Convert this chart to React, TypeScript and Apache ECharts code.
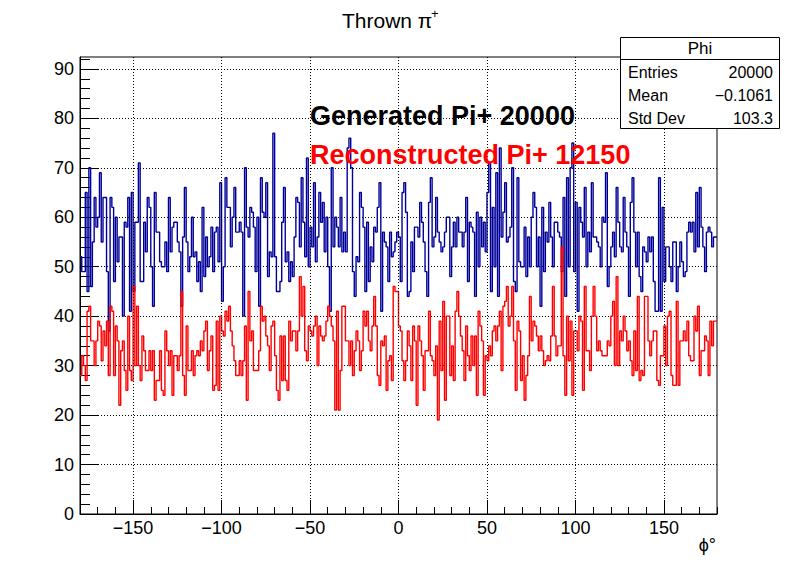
import React, { useEffect, useRef } from "react";
import * as echarts from "echarts";

const X_MIN = -180;
const X_MAX = 180;
const Y_MAX = 92.4;

const generated: number[] = [
  52,49,49,65,45,70,46,55,64,58,60,69,55,64,64,49,37,64,62,47,60,51,56,56,40,59,58,64,41,65,45,59,59,71,47,47,59,53,64,62,50,42,65,57,57,
  51,50,50,55,49,64,53,58,59,59,55,53,42,56,66,55,49,52,60,52,53,47,51,45,62,48,56,50,52,58,49,57,58,51,67,43,50,68,62,62,54,60,66,57,57,
  59,57,40,70,58,56,62,61,58,49,60,42,68,61,60,67,48,53,52,77,52,45,45,47,59,66,51,53,47,51,48,56,64,63,54,68,59,52,72,50,58,54,67,51,56,
  65,59,63,53,60,50,41,70,54,60,58,54,64,53,57,53,74,76,70,49,44,52,51,65,62,58,45,59,47,54,51,58,57,62,67,41,57,55,54,47,57,52,53,55,57,
  56,47,65,67,61,44,45,55,49,58,58,56,63,59,55,49,44,63,68,54,56,64,57,55,53,54,57,60,60,48,54,59,54,60,57,57,54,57,64,47,59,58,57,44,61,
  50,60,54,59,53,65,71,45,62,50,69,44,74,56,61,67,55,56,58,70,47,45,68,51,50,50,58,48,56,50,60,65,62,50,56,42,62,49,57,55,63,56,50,59,59,
  57,56,49,64,44,68,50,70,75,49,63,41,62,59,56,66,50,57,53,67,56,56,55,54,50,60,59,69,46,50,54,57,52,66,59,54,53,64,57,54,44,63,68,57,50,
  57,48,45,54,53,51,56,53,56,47,41,41,68,41,62,47,54,54,50,47,55,55,45,50,55,51,48,49,57,59,57,59,53,65,54,66,58,54,49,57,58,57,54,56,56
];

const reconstructed: number[] = [
  28,32,30,27,41,42,35,35,30,35,39,38,31,37,34,39,28,42,41,28,38,35,22,33,35,29,25,40,29,27,46,30,42,30,27,36,33,29,29,33,29,33,23,27,27,
  33,25,24,37,33,30,33,24,32,32,29,32,45,28,24,38,29,29,33,28,32,33,32,35,33,37,39,29,33,36,25,26,39,25,40,37,36,41,39,42,37,34,31,28,28,
  31,28,31,38,23,45,35,37,29,29,29,33,42,39,40,36,34,29,38,39,32,25,23,36,27,36,27,25,39,35,37,37,33,37,48,40,46,33,31,38,37,36,38,40,30,
  38,36,35,36,39,42,40,38,35,21,41,21,29,42,42,35,35,30,35,28,33,37,35,29,33,41,38,41,35,33,38,44,38,28,26,35,34,36,25,31,32,27,46,45,45,
  38,37,31,27,31,37,34,27,38,35,22,38,35,32,25,33,33,41,32,31,28,34,19,39,29,43,23,40,40,28,34,27,41,45,40,36,33,27,38,32,29,36,30,36,24,
  41,38,35,24,32,31,34,32,37,38,35,38,41,29,42,43,46,38,40,46,35,25,39,37,27,32,23,28,32,44,35,39,38,36,33,36,33,30,31,32,31,36,46,36,32,
  34,34,54,32,24,40,31,39,24,37,37,33,40,39,25,46,33,33,29,40,46,40,33,35,33,32,32,32,35,34,40,43,30,48,30,37,35,40,37,33,35,31,28,37,29,
  44,27,29,28,44,44,35,32,35,37,37,27,26,32,32,38,30,40,41,28,26,26,43,26,35,35,37,35,39,32,31,31,40,37,42,28,33,33,36,35,28,39,34,39,39
];

const xMajorTicks = [-150, -100, -50, 0, 50, 100, 150];
const yMajorTicks = [0, 10, 20, 30, 40, 50, 60, 70, 80, 90];
const statsRows = [
  ["Entries", "20000"],
  ["Mean", "\u22120.1061"],
  ["Std Dev", "103.3"],
];

const FONT = "'Liberation Sans', Arial, Helvetica, sans-serif";

function toSteps(vals: number[]) {
  const pts: number[][] = vals.map((v, i) => [X_MIN + i, v]);
  pts.push([X_MIN + vals.length, vals[vals.length - 1]]);
  return pts;
}

function fmt(v: number) {
  return v < 0 ? "\u2212" + Math.abs(v) : String(v);
}

export default function App() {
  const ref = useRef<HTMLDivElement>(null);
  useEffect(() => {
    if (!ref.current) return;
    const chart = echarts.init(ref.current, undefined, { renderer: "svg" });
    const labelStyle = { color: "#000", fontSize: 18, fontFamily: FONT };
    const statsTexts: any[] = [];
    statsRows.forEach((r, i) => {
      const y = 72 + i * 23;
      statsTexts.push({
        type: "text", x: 628, y, z: 101,
        style: { text: r[0], fill: "#000", font: `16px ${FONT}`, textAlign: "left", textVerticalAlign: "middle" },
      });
      statsTexts.push({
        type: "text", x: 773, y, z: 101,
        style: { text: r[1], fill: "#000", font: `16px ${FONT}`, textAlign: "right", textVerticalAlign: "middle" },
      });
    });
    chart.setOption({
      animation: false,
      backgroundColor: "#fff",
      grid: { left: 80, right: 79, top: 57, bottom: 58, show: true, borderColor: "#000", borderWidth: 1, backgroundColor: "transparent" },
      xAxis: [
        {
          type: "value", min: X_MIN, max: X_MAX, interval: 10, position: "bottom",
          axisLine: { show: true, onZero: false, lineStyle: { color: "#000", width: 1 } },
          axisTick: { show: true, inside: true, length: 7, lineStyle: { color: "#000" } },
          axisLabel: { ...labelStyle, margin: 5, formatter: (v: number) => (v % 50 === 0 ? fmt(v) : "") },
          splitLine: { show: false },
        },
        {
          type: "value", min: X_MIN, max: X_MAX, position: "bottom",
          axisLine: { show: false, onZero: false },
          axisTick: { show: true, inside: true, length: 14, customValues: xMajorTicks, lineStyle: { color: "#000" } },
          axisLabel: { show: false },
          splitLine: { show: false },
        },
      ],
      yAxis: {
        type: "value", min: 0, max: Y_MAX, interval: 10,
        axisLine: { show: true, onZero: false, lineStyle: { color: "#000", width: 1 } },
        axisTick: { show: true, inside: true, length: 19, customValues: yMajorTicks, lineStyle: { color: "#000" } },
        minorTick: { show: true, splitNumber: 5, length: 10, lineStyle: { color: "#000" } },
        axisLabel: { ...labelStyle, margin: 6, customValues: yMajorTicks, formatter: (v: number) => String(v) },
        splitLine: { show: true, lineStyle: { color: "#000", type: [1, 2], width: 1 } },
      },
      series: [
        {
          name: "Generated", type: "line", step: "end", data: toSteps(generated),
          showSymbol: false, symbol: "none", lineStyle: { color: "#000099", width: 1.4 }, z: 3,
          markLine: {
            silent: true, symbol: ["none", "none"], label: { show: false },
            lineStyle: { color: "#000", type: [1, 2], width: 1 },
            data: xMajorTicks.map((v) => ({ xAxis: v })),
          },
        },
        {
          name: "Reconstructed", type: "line", step: "end", data: toSteps(reconstructed),
          showSymbol: false, symbol: "none", lineStyle: { color: "#ff0000", width: 1.4 }, z: 4,
        },
      ],
      graphic: [
        { type: "text", x: 342, y: 20, style: { text: "Thrown \u03c0", fill: "#000", font: `21px ${FONT}`, textAlign: "left", textVerticalAlign: "middle" } },
        { type: "text", x: 431, y: 13, style: { text: "+", fill: "#000", font: `13px ${FONT}`, textAlign: "left", textVerticalAlign: "middle" } },
        { type: "text", x: 310, y: 116, z: 50, style: { text: "Generated Pi+ 20000", fill: "#000", font: `bold 27px ${FONT}`, textAlign: "left", textVerticalAlign: "middle" } },
        { type: "text", x: 310, y: 155, z: 50, style: { text: "Reconstructed Pi+ 12150", fill: "#ff0000", font: `bold 27px ${FONT}`, textAlign: "left", textVerticalAlign: "middle" } },
        { type: "text", x: 716, y: 545, style: { text: "\u03d5\u00b0", fill: "#000", font: `18px ${FONT}`, textAlign: "right", textVerticalAlign: "middle" } },
        { type: "rect", z: 100, shape: { x: 620.5, y: 37.5, width: 159, height: 91 }, style: { fill: "#fff", stroke: "#000", lineWidth: 1 } },
        { type: "line", z: 101, shape: { x1: 620.5, y1: 59.5, x2: 779.5, y2: 59.5 }, style: { stroke: "#000", lineWidth: 1 } },
        { type: "text", x: 700, y: 48, z: 101, style: { text: "Phi", fill: "#000", font: `17px ${FONT}`, textAlign: "center", textVerticalAlign: "middle" } },
        ...statsTexts,
      ],
    });
    return () => chart.dispose();
  }, []);
  return <div ref={ref} style={{ position: "absolute", left: 0, top: 0, width: 796, height: 572 }} />;
}
